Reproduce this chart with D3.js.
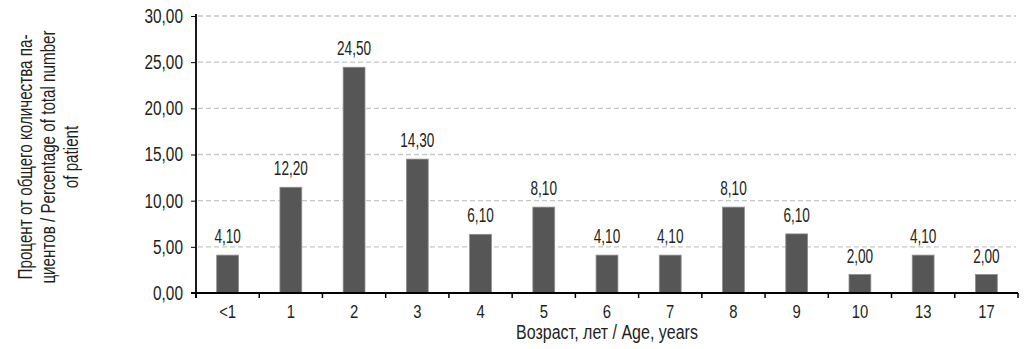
<!DOCTYPE html>
<html><head><meta charset="utf-8">
<script src="https://cdn.jsdelivr.net/npm/d3@7"></script>
<style>
body{margin:0;background:#fff;}
svg text{font-family:"Liberation Sans",Arial,sans-serif;fill:#231f20;}
</style></head>
<body><svg id="c" width="1024" height="349"></svg>
<script>
const categories = ["<1","1","2","3","4","5","6","7","8","9","10","13","17"];
const barValues = [4.1, 11.45, 24.45, 14.5, 6.35, 9.3, 4.1, 4.1, 9.3, 6.4, 2.0, 4.1, 2.0];
const barLabels = ["4,10","12,20","24,50","14,30","6,10","8,10","4,10","4,10","8,10","6,10","2,00","4,10","2,00"];
const yTicks = [0,5,10,15,20,25,30];
const yTitleLines = ["Процент от общего количества па-","циентов / Percentage of total number","of patient"];
const xTitle = "Возраст, лет / Age, years";

function squeeze(sel, f){
  sel.each(function(){
    const w = this.getComputedTextLength();
    d3.select(this).attr("textLength", w*f).attr("lengthAdjust","spacingAndGlyphs");
  });
}

const svg = d3.select("#c");
const x = d3.scaleBand().domain(categories).range([196,1018]).paddingInner(0.655).paddingOuter(0.3275);
const band = d3.scaleBand().domain(categories).range([196,1018]);
const y = d3.scaleLinear().domain([0,30]).range([293,16]);
const fmt = v => d3.format(".2f")(v).replace(".", ",");

// gridlines
svg.append("g").selectAll("line").data(yTicks.filter(d=>d>0)).join("line")
  .attr("x1",198).attr("x2",1016).attr("y1",d=>y(d)).attr("y2",d=>y(d))
  .attr("stroke","#c6c6c6").attr("stroke-width",1.3).attr("stroke-dasharray","5,3");

// bars
svg.append("g").selectAll("rect").data(categories).join("rect")
  .attr("x",d=>x(d)).attr("width",x.bandwidth())
  .attr("y",(d,i)=>y(barValues[i])).attr("height",(d,i)=>y(0)-y(barValues[i]))
  .attr("fill","#565656").attr("stroke","#8c8c8c").attr("stroke-width",0.8);

// bar labels
const bl = svg.append("g").selectAll("text").data(categories).join("text")
  .attr("x",d=>x(d)+x.bandwidth()/2).attr("y",(d,i)=>y(barValues[i])-12)
  .attr("text-anchor","middle").attr("font-size",20).text((d,i)=>barLabels[i]);
squeeze(bl, 0.68);

// y axis
const yAxis = svg.append("g").attr("transform","translate(196,0)")
  .call(d3.axisLeft(y).tickValues(yTicks).tickSize(5).tickPadding(8).tickFormat(fmt));
yAxis.select(".domain").remove();
yAxis.selectAll(".tick line").attr("stroke","#000");
yAxis.selectAll("text").attr("font-size",20).attr("fill","#231f20").style("font-family",null);
squeeze(yAxis.selectAll("text"), 0.77);
svg.append("line").attr("x1",196).attr("x2",196).attr("y1",14).attr("y2",298).attr("stroke","#000").attr("stroke-width",1.8);

// x axis
const xAxis = svg.append("g").attr("transform","translate(0,293)")
  .call(d3.axisBottom(band).tickSize(0).tickPadding(12));
xAxis.select(".domain").remove();
xAxis.selectAll("text").attr("font-size",19).attr("dy","0.71em").attr("fill","#231f20").style("font-family",null);
squeeze(xAxis.selectAll("text"), 0.78);
svg.append("line").attr("x1",191).attr("x2",1018).attr("y1",293).attr("y2",293).attr("stroke","#000").attr("stroke-width",1.8);
svg.append("g").selectAll("line").data(categories.concat(["__end"])).join("line")
  .attr("x1",(d,i)=>band.range()[0]+i*band.step()).attr("x2",(d,i)=>band.range()[0]+i*band.step())
  .attr("y1",293).attr("y2",298).attr("stroke","#000").attr("stroke-width",1.5);

// titles
const xt = svg.append("text").attr("x",607).attr("y",339).attr("text-anchor","middle").attr("font-size",20).text(xTitle);
squeeze(xt, 0.8);
const yt = svg.append("g").selectAll("text").data(yTitleLines).join("text")
  .attr("text-anchor","middle").attr("font-size",20).text(d=>d);
yt.each(function(d,i){
  const w = this.getComputedTextLength();
  const sx = Math.min(0.76, 272 / w);
  d3.select(this).attr("transform",`translate(${32+i*23},157) rotate(-90) scale(${sx},1)`);
});
</script></body></html>
